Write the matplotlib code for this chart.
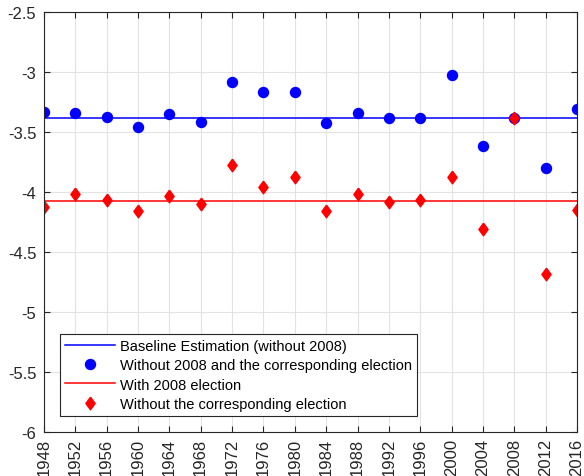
import matplotlib
matplotlib.use("Agg")
import matplotlib.pyplot as plt
import numpy as np

plt.rcParams['font.family'] = ['Liberation Sans', 'DejaVu Sans']

years = [1948, 1952, 1956, 1960, 1964, 1968, 1972, 1976, 1980, 1984,
         1988, 1992, 1996, 2000, 2004, 2008, 2012, 2016]
baseline_without_2008 = -3.383
baseline_with_2008 = -4.072
without_2008_and_year = [-3.336, -3.339, -3.378, -3.458, -3.350, -3.414, -3.086, -3.167, -3.167,
                         -3.428, -3.344, -3.381, -3.381, -3.022, -3.617, -3.380, -3.800, -3.308]
without_year = [-4.125, -4.017, -4.067, -4.156, -4.033, -4.100, -3.778, -3.956, -3.875,
                -4.158, -4.017, -4.081, -4.069, -3.878, -4.308, -3.380, -4.683, -4.150]

# diamond a little narrower than it is tall
diamond = [(0, 1), (0.73, 0), (0, -1), (-0.73, 0), (0, 1)]

fig = plt.figure(figsize=(5.84, 4.77), dpi=100)
ax = fig.add_axes([0.0753, 0.0922, 0.9127, 0.8805])

ax.axhline(baseline_without_2008, color=(0, 0, 1), lw=1.1, label='Baseline Estimation (without 2008)')
ax.plot(years, without_2008_and_year, 'o', color=(0, 0, 1), ms=7.2, ls='none',
        label='Without 2008 and the corresponding election')
ax.axhline(baseline_with_2008, color=(1, 0, 0), lw=1.1, label='With 2008 election')
ax.plot(years, without_year, marker=diamond, color=(1, 0, 0), ms=9.1, ls='none',
        label='Without the corresponding election')

ax.set_xlim(1948, 2016)
ax.set_ylim(-6, -2.5)
ax.set_xticks(years)
ax.set_xticklabels([str(y) for y in years], rotation=90)
ax.set_yticks(np.arange(-6, -2.4, 0.5))
ax.set_yticklabels(['-6', '-5.5', '-5', '-4.5', '-4', '-3.5', '-3', '-2.5'])

ax.grid(True, color=(0.89, 0.89, 0.89), lw=0.8)
ax.set_axisbelow(True)
for s in ax.spines.values():
    s.set_color((0.15, 0.15, 0.15))
    s.set_linewidth(0.8)
ax.tick_params(direction='in', top=True, right=True, length=4, width=0.8,
               color=(0.15, 0.15, 0.15), labelsize=12, labelcolor=(0.15, 0.15, 0.15))
ax.tick_params(axis='x', pad=4)
ax.tick_params(axis='y', pad=5.5)

leg = ax.legend(loc='lower left', bbox_to_anchor=(0.030, 0.038), fontsize=10.5,
                frameon=True, fancybox=False, framealpha=1, borderpad=0.35,
                labelspacing=0.37, handlelength=3.4, handletextpad=0.35, borderaxespad=0)
leg.get_frame().set_edgecolor((0.15, 0.15, 0.15))
leg.get_frame().set_linewidth(0.8)

fig.savefig('out.png', dpi=100)
